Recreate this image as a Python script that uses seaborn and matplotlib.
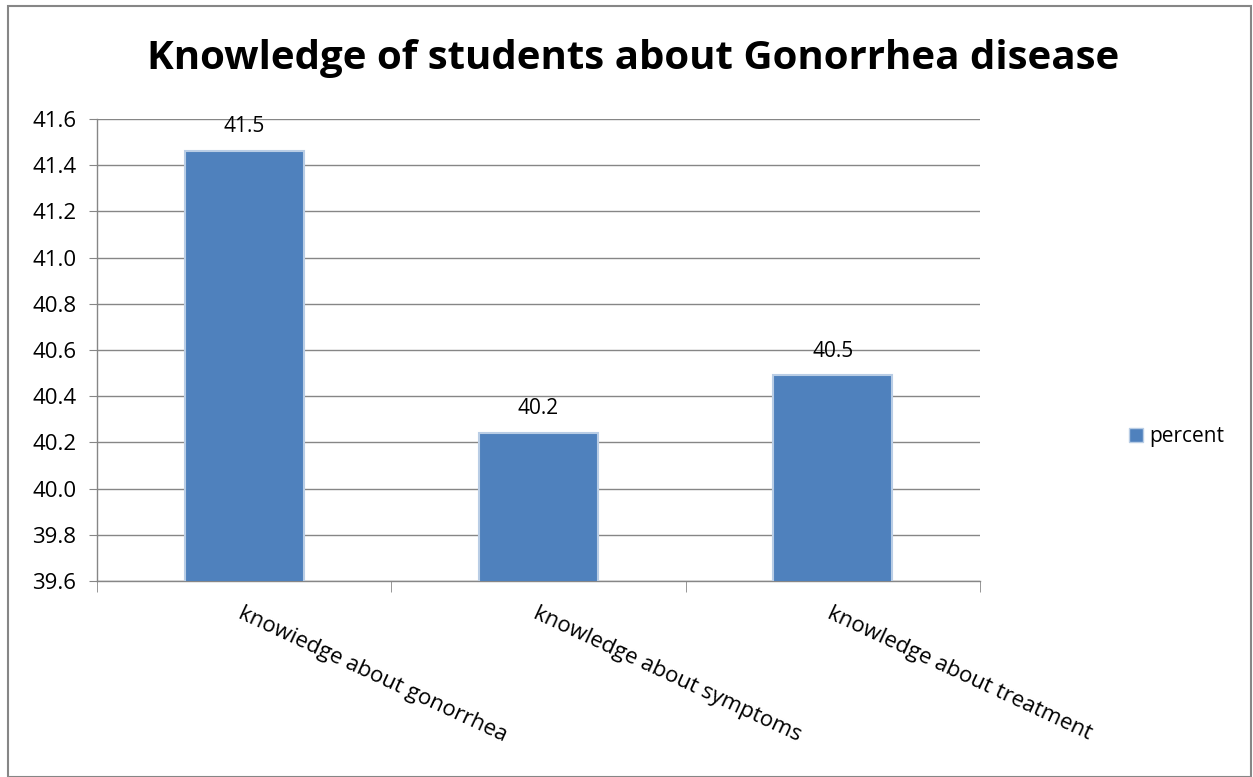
import matplotlib
matplotlib.use("Agg")
import matplotlib.pyplot as plt
import seaborn as sns
import pandas as pd
from matplotlib.patches import Rectangle, Patch

categories = ["knowiedge about gonorrhea", "knowledge about symptoms", "knowledge about treatment"]
percent = [41.46, 40.24, 40.49]
bar_labels = ["41.5", "40.2", "40.5"]
yticks = [39.6, 39.8, 40.0, 40.2, 40.4, 40.6, 40.8, 41.0, 41.2, 41.4, 41.6]

df = pd.DataFrame({"category": categories, "percent": percent})

sns.set_style("white")
plt.rcParams['font.family'] = ['Open Sans', 'DejaVu Sans']
plt.rcParams['text.color'] = 'black'
plt.rcParams['xtick.color'] = 'black'
plt.rcParams['ytick.color'] = 'black'

fig = plt.figure(figsize=(12.53, 7.77), dpi=100)
ax = fig.add_axes([97/1253, 1 - 581/777, (980-97)/1253, (581-119)/777])

sns.barplot(data=df, x="category", y="percent", color="#4f81bd", saturation=1, width=0.405,
            edgecolor="#b9cde5", linewidth=1.5, ax=ax, zorder=3)

ax.set_ylim(39.6, 41.6)
ax.set_xlim(-0.5, 2.5)
ax.set_yticks(yticks)
ax.set_yticklabels([f"{t:.1f}" for t in yticks], fontsize=16)
ax.yaxis.grid(True, color="#868686", linewidth=1, zorder=0)
ax.set_xlabel("")
ax.set_ylabel("")

# labels above bars
for i, (v, s) in enumerate(zip(percent, bar_labels)):
    ax.annotate(s, (i, v), xytext=(0, 10), textcoords="offset points",
                ha="center", va="bottom", fontsize=15)

# category tick labels, rotated like the original
ax.set_xticks(range(len(categories)))
ax.set_xticklabels(categories, rotation=-25, ha="left", rotation_mode="anchor", fontsize=16)
ax.tick_params(axis="x", length=0, pad=16)
ax.tick_params(axis="y", length=6, color="#868686", left=True, pad=9)

# boundary tick marks on x axis
ax.set_xticks([-0.5, 0.5, 1.5, 2.5], minor=True)
ax.tick_params(axis="x", which="minor", length=8, color="#868686", bottom=True)

for side in ["top", "right"]:
    ax.spines[side].set_visible(False)
for side in ["left", "bottom"]:
    ax.spines[side].set_color("#868686")
    ax.spines[side].set_linewidth(1)

fig.suptitle("Knowledge of students about Gonorrhea disease", fontsize=29,
             fontweight="bold", x=633/1253, y=1 - 58/777, va="center")

handles = [Patch(facecolor="#4f81bd", edgecolor="#b9cde5", label="percent")]
fig.legend(handles=handles, loc="center left", bbox_to_anchor=(1110/1253, 1 - 437/777),
           frameon=False, fontsize=15, handlelength=0.7, handleheight=0.7, handletextpad=0.3)

# outer chart frame
fig.patches.append(Rectangle((8/1253, 0), 1 - 10/1253, 1 - 6/777, transform=fig.transFigure,
                             fill=False, edgecolor="#868686", linewidth=1.5))

fig.savefig("out.png", dpi=100)
